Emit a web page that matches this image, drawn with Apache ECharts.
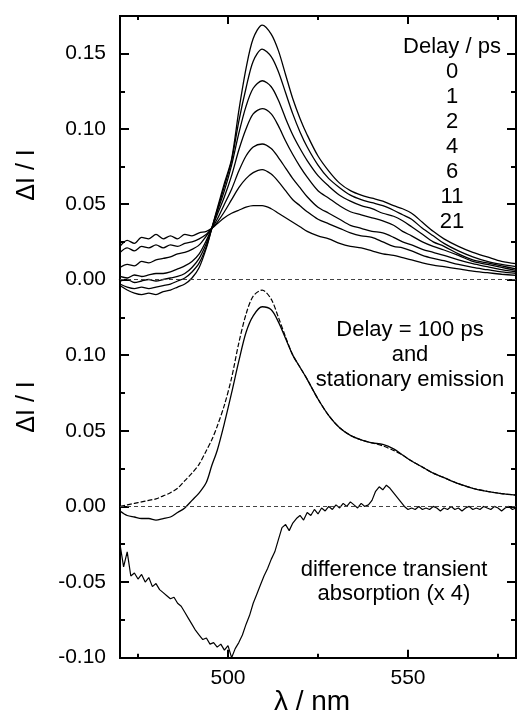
<!DOCTYPE html>
<html>
<head>
<meta charset="utf-8">
<script src="https://cdn.jsdelivr.net/npm/echarts@6/dist/echarts.min.js"></script>
<style>
html, body { margin: 0; padding: 0; background: #fff; }
#chart { width: 517px; height: 722px; }
</style>
</head>
<body>
<div id="chart"></div>
<script>
// wavelength grid (nm) shared by the emission spectra
var lambda = [470, 472, 474, 476, 478, 480, 482, 484, 486, 488, 490, 492, 494, 495.5, 497, 499, 501, 503, 505, 507,
  509.5, 512, 514, 516, 518, 520, 522, 525, 528, 531, 534, 537, 540, 543, 546, 548.5, 551, 554, 557, 560,
  564, 568, 572, 576, 580];

// top panel: transient spectra for each delay (ps)
var delays = ['0', '1', '2', '4', '6', '11', '21'];
var delay0 = [-0.004, -0.007, -0.009, -0.010, -0.009, -0.010, -0.008, -0.007, -0.005, -0.003, 0.001, 0.008, 0.021, 0.034, 0.047, 0.064, 0.080, 0.112, 0.140, 0.160,
  0.169, 0.163, 0.152, 0.136, 0.120, 0.107, 0.096, 0.082, 0.072, 0.064, 0.059, 0.056, 0.054, 0.052, 0.049, 0.047, 0.044, 0.038, 0.032, 0.027,
  0.022, 0.018, 0.015, 0.012, 0.0105];
var delay1 = [-0.003, -0.005, -0.006, -0.005, -0.006, -0.005, -0.004, -0.003, -0.001, 0.001, 0.005, 0.011, 0.022, 0.034, 0.046, 0.062, 0.079, 0.105, 0.127, 0.145,
  0.153, 0.148, 0.138, 0.124, 0.110, 0.098, 0.088, 0.076, 0.067, 0.061, 0.056, 0.053, 0.051, 0.049, 0.046, 0.043, 0.040, 0.034, 0.029, 0.024,
  0.019, 0.015, 0.012, 0.010, 0.0085];
var delay2 = [-0.001, 0.000, -0.002, -0.001, 0.000, -0.001, 0.000, 0.001, 0.002, 0.004, 0.008, 0.014, 0.024, 0.034, 0.045, 0.059, 0.076, 0.097, 0.115, 0.127,
  0.132, 0.128, 0.119, 0.107, 0.096, 0.087, 0.079, 0.069, 0.062, 0.056, 0.052, 0.049, 0.047, 0.044, 0.042, 0.039, 0.035, 0.030, 0.025, 0.022,
  0.017, 0.013, 0.011, 0.009, 0.007];
var delay4 = [0.002, 0.001, 0.003, 0.002, 0.003, 0.004, 0.004, 0.005, 0.007, 0.009, 0.012, 0.017, 0.026, 0.034, 0.043, 0.055, 0.069, 0.086, 0.100, 0.110,
  0.1135, 0.110, 0.102, 0.092, 0.083, 0.075, 0.068, 0.059, 0.054, 0.049, 0.045, 0.043, 0.041, 0.039, 0.036, 0.032, 0.029, 0.025, 0.022, 0.0196,
  0.016, 0.012, 0.010, 0.008, 0.006];
var delay6 = [0.008, 0.010, 0.009, 0.012, 0.011, 0.013, 0.014, 0.015, 0.017, 0.018, 0.020, 0.023, 0.029, 0.034, 0.040, 0.050, 0.060, 0.072, 0.082, 0.088,
  0.090, 0.087, 0.081, 0.074, 0.067, 0.061, 0.055, 0.048, 0.044, 0.040, 0.036, 0.034, 0.032, 0.031, 0.028, 0.025, 0.023, 0.020, 0.018, 0.016,
  0.013, 0.0105, 0.0085, 0.0065, 0.005];
var delay11 = [0.018, 0.021, 0.019, 0.022, 0.021, 0.023, 0.021, 0.023, 0.022, 0.024, 0.025, 0.027, 0.030, 0.034, 0.038, 0.045, 0.053, 0.061, 0.067, 0.071,
  0.073, 0.070, 0.065, 0.059, 0.053, 0.049, 0.045, 0.040, 0.037, 0.034, 0.031, 0.029, 0.028, 0.025, 0.022, 0.021, 0.019, 0.016, 0.014, 0.0125,
  0.010, 0.008, 0.0065, 0.005, 0.004];
var delay21 = [0.022, 0.026, 0.024, 0.028, 0.027, 0.030, 0.027, 0.029, 0.027, 0.030, 0.029, 0.031, 0.032, 0.034, 0.037, 0.041, 0.044, 0.046, 0.048, 0.049,
  0.049, 0.047, 0.044, 0.041, 0.038, 0.035, 0.032, 0.029, 0.027, 0.024, 0.022, 0.021, 0.019, 0.017, 0.016, 0.0145, 0.013, 0.011, 0.0095, 0.0085,
  0.007, 0.0055, 0.0045, 0.0035, 0.0027];

// bottom panel: 100 ps spectrum (solid) and stationary emission (dashed)
var emis100 = [-0.003, -0.006, -0.007, -0.008, -0.008, -0.009, -0.008, -0.007, -0.004, -0.001, 0.004, 0.009, 0.016, 0.027, 0.037, 0.055, 0.075, 0.096, 0.115, 0.126,
  0.132, 0.130, 0.122, 0.111, 0.100, 0.092, 0.084, 0.071, 0.060, 0.052, 0.047, 0.044, 0.042, 0.041, 0.038, 0.034, 0.030, 0.026, 0.022, 0.019,
  0.015, 0.012, 0.010, 0.0085, 0.0075];
var emisStat = [0.000, 0.001, 0.002, 0.003, 0.004, 0.005, 0.007, 0.009, 0.012, 0.017, 0.022, 0.028, 0.037, 0.044, 0.053, 0.067, 0.085, 0.108, 0.127, 0.139,
  0.143, 0.137, 0.125, 0.112, 0.100, 0.092, 0.084, 0.071, 0.060, 0.052, 0.047, 0.044, 0.042, 0.040, 0.037, 0.034, 0.030, 0.026, 0.022, 0.019,
  0.015, 0.012, 0.010, 0.0085, 0.0075];

// difference transient absorption (x 4)
var diffLambda = [470, 471, 472, 473, 474, 475, 476, 477, 478, 479, 480, 481, 482, 483, 484, 485, 486, 487, 488, 489,
  490, 491, 492, 493, 494, 495, 496, 497, 498, 499, 500, 501, 502, 503, 504, 505, 506, 507, 508, 509,
  510, 511, 512, 513, 514, 515, 516, 517, 518, 519, 520, 521, 522, 523, 524, 525, 526, 527, 528, 529,
  530, 531, 532, 533, 534, 535, 536, 537, 538, 539, 540, 541, 542, 543, 544, 545, 546, 547, 548, 549,
  550, 551, 552, 553, 554, 555, 556, 557, 558, 559, 560, 561, 562, 563, 564, 565, 566, 567, 568, 569,
  570, 571, 572, 573, 574, 575, 576, 577, 578, 579, 580];
var diffVals = [-0.025, -0.040, -0.030, -0.046, -0.044, -0.048, -0.045, -0.050, -0.047, -0.053, -0.051, -0.055, -0.057, -0.059, -0.061, -0.060, -0.064, -0.066, -0.070, -0.074,
  -0.078, -0.082, -0.085, -0.088, -0.087, -0.091, -0.090, -0.093, -0.091, -0.095, -0.092, -0.100, -0.094, -0.090, -0.085, -0.078, -0.072, -0.064, -0.058, -0.052,
  -0.046, -0.041, -0.035, -0.030, -0.022, -0.014, -0.012, -0.016, -0.011, -0.008, -0.006, -0.009, -0.004, -0.006, -0.002, -0.005, -0.001, -0.003, 0.000, -0.002,
  0.001, -0.001, 0.002, 0.000, 0.003, 0.001, -0.001, 0.002, 0.000, 0.001, 0.004, 0.010, 0.013, 0.011, 0.014, 0.012, 0.009, 0.006, 0.003, 0.000,
  -0.002, -0.001, -0.002, 0.000, -0.002, -0.001, -0.002, 0.000, -0.001, -0.003, -0.001, -0.002, 0.000, -0.002, -0.001, -0.003, -0.001, 0.000, -0.002, -0.001,
  -0.002, 0.000, -0.001, -0.002, 0.000, -0.001, -0.003, -0.001, 0.000, -0.002, -0.001];

// tick positions
var xMajor = [500, 550];
var xMinor = [475, 525, 575];
var topMajor = [0, 0.05, 0.10, 0.15];
var topMinor = [0.025, 0.075, 0.125];
var botMajor = [-0.10, -0.05, 0, 0.05, 0.10];
var botMinor = [-0.075, -0.025, 0.025, 0.075, 0.125];

var FONT = '"Liberation Sans", Arial, sans-serif';

function xAx(grid, pos, ticks, len, labels) {
  return {
    type: 'value', gridIndex: grid, position: pos, min: 470, max: 580,
    axisLine: { show: true, onZero: false, lineStyle: { color: '#000', width: 2 } },
    axisTick: { show: true, inside: true, length: len, customValues: ticks, lineStyle: { color: '#000', width: 2 } },
    axisLabel: { show: labels, customValues: ticks, margin: 10, color: '#000', fontSize: 21, fontFamily: FONT },
    splitLine: { show: false }
  };
}

function yAx(grid, pos, min, max, ticks, len, labels) {
  return {
    type: 'value', gridIndex: grid, position: pos, min: min, max: max,
    axisLine: { show: true, onZero: false, lineStyle: { color: '#000', width: 2 } },
    axisTick: { show: true, inside: true, length: len, customValues: ticks, lineStyle: { color: '#000', width: 2 } },
    axisLabel: {
      show: labels, customValues: ticks, margin: 14, color: '#000', fontSize: 21, fontFamily: FONT,
      formatter: function (v) { return v.toFixed(2); }
    },
    splitLine: { show: false }
  };
}

function pairs(xs, ys) {
  return xs.map(function (x, i) { return [x, ys[i]]; });
}

var zeroLine = {
  silent: true, symbol: 'none', label: { show: false },
  lineStyle: { type: [4, 3], color: '#444', width: 1 },
  data: [{ yAxis: 0 }]
};

var topCurves = [delay0, delay1, delay2, delay4, delay6, delay11, delay21];
var series = topCurves.map(function (vals, i) {
  var s = {
    name: delays[i], type: 'line', xAxisIndex: 0, yAxisIndex: 0,
    symbol: 'none', smooth: 0.3, clip: false,
    lineStyle: { color: '#000', width: 1.3 },
    data: pairs(lambda, vals)
  };
  if (i === 0) s.markLine = zeroLine;
  return s;
});
series.push({
  name: '100 ps', type: 'line', xAxisIndex: 2, yAxisIndex: 4, symbol: 'none', smooth: 0.3,
  lineStyle: { color: '#000', width: 1.3 }, data: pairs(lambda, emis100), markLine: zeroLine
});
series.push({
  name: 'stationary', type: 'line', xAxisIndex: 2, yAxisIndex: 4, symbol: 'none', smooth: 0.3,
  lineStyle: { color: '#000', width: 1.2, type: [5, 2] }, data: pairs(lambda, emisStat)
});
series.push({
  name: 'difference', type: 'line', xAxisIndex: 2, yAxisIndex: 4, symbol: 'none',
  lineStyle: { color: '#000', width: 1.2 }, data: pairs(diffLambda, diffVals)
});

function txt(x, y, text, size, lh, rot) {
  return {
    type: 'text', x: x, y: y, rotation: rot || 0,
    style: {
      text: text, fill: '#000', font: size + 'px ' + FONT, lineHeight: lh,
      align: 'center', verticalAlign: 'middle', textAlign: 'center', textVerticalAlign: 'middle'
    }
  };
}

var chart = echarts.init(document.getElementById('chart'));
chart.setOption({
  animation: false,
  backgroundColor: '#fff',
  grid: [
    { left: 120, top: 16, width: 396, height: 263.5 },
    { left: 120, top: 279.5, width: 396, height: 378.2 }
  ],
  xAxis: [
    xAx(0, 'top', xMajor, 8, false),
    xAx(0, 'top', xMinor, 4, false),
    xAx(1, 'bottom', xMajor, 8, true),
    xAx(1, 'bottom', xMinor, 4, false)
  ],
  yAxis: [
    yAx(0, 'left', 0, 0.175, topMajor, 9, true),
    yAx(0, 'left', 0, 0.175, topMinor, 5, false),
    yAx(0, 'right', 0, 0.175, topMajor, 9, false),
    yAx(0, 'right', 0, 0.175, topMinor, 5, false),
    yAx(1, 'left', -0.1, 0.15, botMajor, 9, true),
    yAx(1, 'left', -0.1, 0.15, botMinor, 5, false),
    yAx(1, 'right', -0.1, 0.15, botMajor, 9, false),
    yAx(1, 'right', -0.1, 0.15, botMinor, 5, false)
  ],
  series: series,
  graphic: [
    txt(27, 175, 'ΔI / I', 25, 25, Math.PI / 2),
    txt(27, 407, 'ΔI / I', 25, 25, Math.PI / 2),
    txt(312, 702, 'λ / nm', 28, 28),
    txt(452, 134, 'Delay / ps\n0\n1\n2\n4\n6\n11\n21', 22, 25),
    txt(410, 355, 'Delay = 100 ps\nand\nstationary emission', 22, 24.7),
    txt(394, 582, 'difference transient\nabsorption (x 4)', 22, 23.5)
  ]
});
</script>
</body>
</html>
